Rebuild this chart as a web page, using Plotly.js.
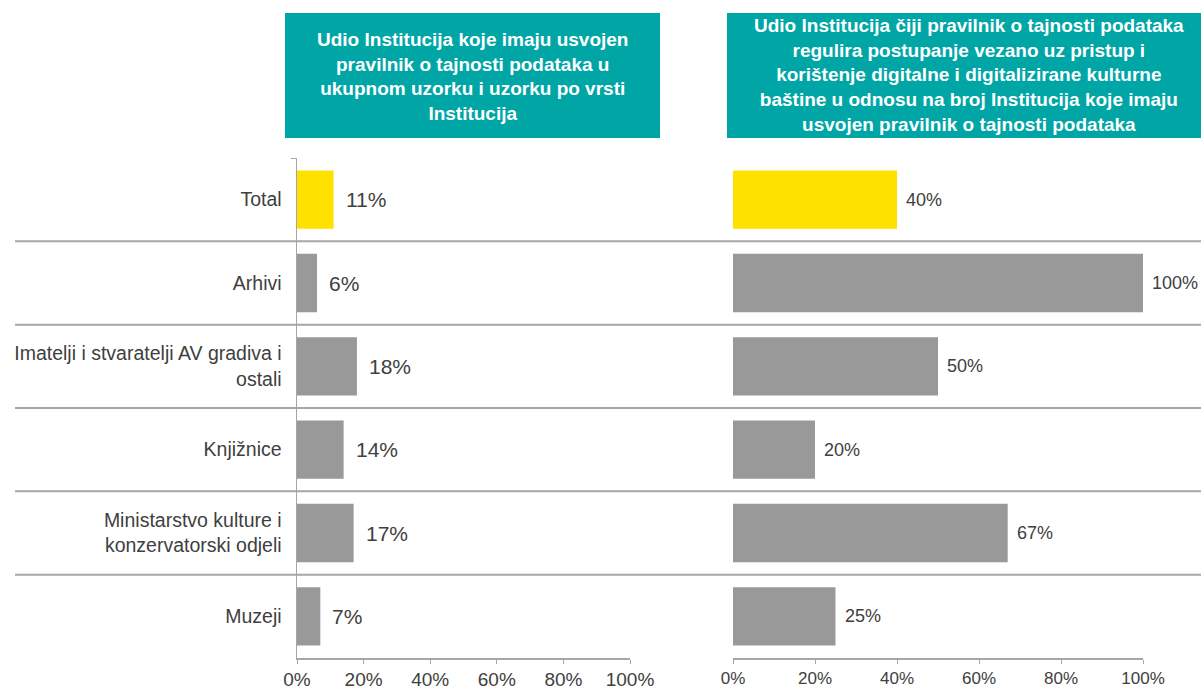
<!DOCTYPE html>
<html>
<head>
<meta charset="utf-8">
<script src="https://cdn.plot.ly/plotly-3.0.1.min.js"></script>
<style>html,body{margin:0;padding:0;background:#fff;}#chart{width:1201px;height:691px;}</style>
</head>
<body>
<div id="chart"></div>
<script>
var categories = ['Total', 'Arhivi', 'Imatelji i stvaratelji AV gradiva i<br>ostali', 'Knjižnice', 'Ministarstvo kulture i<br>konzervatorski odjeli', 'Muzeji'];
var shareWithRules = [0.11, 0.06, 0.18, 0.14, 0.17, 0.07];
var shareRegulatingDigital = [0.40, 1.00, 0.50, 0.20, 0.67, 0.25];
var titleLeft = 'Udio Institucija koje imaju usvojen<br>pravilnik o tajnosti podataka u<br>ukupnom uzorku i uzorku po vrsti<br>Institucija';
var titleRight = 'Udio Institucija čiji pravilnik o tajnosti podataka<br>regulira postupanje vezano uz pristup i<br>korištenje digitalne i digitalizirane kulturne<br>baštine u odnosu na broj Institucija koje imaju<br>usvojen pravilnik o tajnosti podataka';

var W = 1201, H = 691;
var YEL = '#FFE100', GRY = '#999999', TEAL = '#00A6A6', TXT = '#404040', LINE = '#a6a6a6';
var FONT = 'Liberation Sans, Arial';
var colors = categories.map(function(c, i){ return i === 0 ? YEL : GRY; });
function pct(v){ return Math.round(v * 100) + '%'; }
function px(x){ return x / W; }
function py(y){ return 1 - y / H; }

var traces = [
  {type:'bar', orientation:'h', x: shareWithRules, y: categories, xaxis:'x', yaxis:'y',
   marker:{color: colors}, width:0.7, hoverinfo:'none'},
  {type:'bar', orientation:'h', x: shareRegulatingDigital, y: categories, xaxis:'x2', yaxis:'y2',
   marker:{color: colors}, width:0.7, hoverinfo:'none'}
];

var annotations = [];
shareWithRules.forEach(function(v, i){
  annotations.push({x:v, y:categories[i], xref:'x', yref:'y', text:pct(v), showarrow:false,
    xanchor:'left', xshift:10, font:{family:FONT, size:21, color:TXT}});
});
shareRegulatingDigital.forEach(function(v, i){
  annotations.push({x:v, y:categories[i], xref:'x2', yref:'y2', text:pct(v), showarrow:false,
    xanchor:'left', xshift:7, font:{family:FONT, size:18, color:TXT}});
});
annotations.push({x:px(472), y:py(76), xref:'paper', yref:'paper', text:'<b>'+titleLeft+'</b>', showarrow:false,
  xanchor:'center', yanchor:'middle', align:'center', font:{family:FONT, size:19, color:'#ffffff'}});
annotations.push({x:px(969), y:py(75), xref:'paper', yref:'paper', text:'<b>'+titleRight+'</b>', showarrow:false,
  xanchor:'center', yanchor:'middle', align:'center', font:{family:FONT, size:19, color:'#ffffff'}});

var shapes = [
  {type:'rect', xref:'paper', yref:'paper', x0:px(285), x1:px(660), y0:py(138), y1:py(13), fillcolor:TEAL, line:{width:0}, layer:'below'},
  {type:'rect', xref:'paper', yref:'paper', x0:px(727), x1:1.01, y0:py(138), y1:py(13), fillcolor:TEAL, line:{width:0}, layer:'below'}
];
for (var k = 0; k < categories.length - 1; k++) {
  shapes.push({type:'line', xref:'paper', yref:'y', x0:px(15), x1:1, y0:k + 0.5, y1:k + 0.5,
    line:{color:LINE, width:2}});
}

var xCommon = {range:[0,1], dtick:0.2, tick0:0, tickformat:'.0%', showgrid:false, zeroline:false,
  showline:true, linecolor:LINE, linewidth:1.5, ticks:'outside', ticklen:4, tickcolor:LINE,
  ticklabelstandoff:0, fixedrange:true};

var layout = {
  width:W, height:H, margin:{l:0, r:0, t:0, b:0}, paper_bgcolor:'#fff', plot_bgcolor:'rgba(0,0,0,0)',
  showlegend:false, bargap:0.3,
  font:{family:FONT, color:TXT},
  xaxis: Object.assign({}, xCommon, {domain:[px(297), px(630)], anchor:'y',
    tickfont:{size:19, color:TXT}}),
  xaxis2: Object.assign({}, xCommon, {domain:[px(733), px(1143)], anchor:'y2',
    tickfont:{size:17, color:TXT}}),
  yaxis: {domain:[py(658), py(158)], range:[5.5, -0.5], type:'category', showgrid:false, zeroline:false,
    showline:true, linecolor:LINE, linewidth:1.5, ticks:'outside', tickson:'boundaries', ticklen:5, tickcolor:LINE,
    tickfont:{size:19.5, color:TXT}, ticklabelstandoff:10, anchor:'x', fixedrange:true},
  yaxis2: {domain:[py(658), py(158)], range:[5.5, -0.5], type:'category', showgrid:false, zeroline:false,
    showline:false, showticklabels:false, anchor:'x2', fixedrange:true},
  annotations: annotations,
  shapes: shapes
};

Plotly.newPlot('chart', traces, layout, {displayModeBar:false, staticPlot:true});
</script>
</body>
</html>
